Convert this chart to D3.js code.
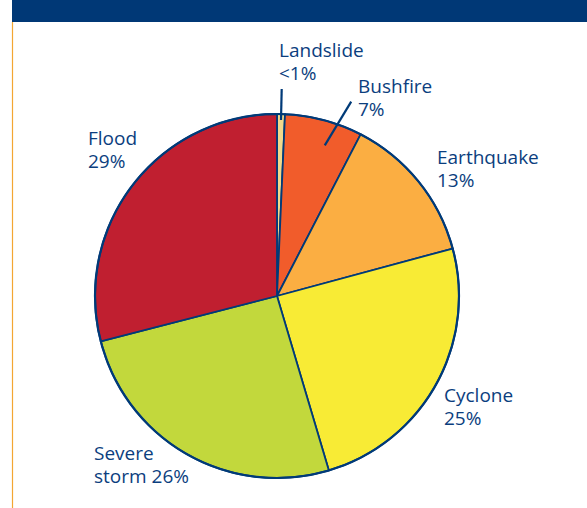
<!DOCTYPE html>
<html>
<head>
<meta charset="utf-8">
<script src="https://cdn.jsdelivr.net/npm/d3@7"></script>
<style>
  html, body { margin: 0; padding: 0; background: #ffffff; }
  svg { display: block; }
  text { font-family: "Open Sans", "Noto Sans", sans-serif; }
</style>
</head>
<body>
<svg id="chart" width="587" height="508"></svg>
<script>
// ---- data ----
const categories = ["Landslide", "Bushfire", "Earthquake", "Cyclone", "Severe storm", "Flood"];
const shares = [0.7, 6.9, 13.2, 24.6, 25.6, 29.0];           // % of events (slice sizes)
const shareLabels = ["<1%", "7%", "13%", "25%", "26%", "29%"]; // printed labels
const labelLines = [
  ["Landslide", "<1%"],
  ["Bushfire", "7%"],
  ["Earthquake", "13%"],
  ["Cyclone", "25%"],
  ["Severe", "storm 26%"],
  ["Flood", "29%"]
];
const colors = ["#f1d98c", "#f15c2b", "#fbae42", "#f8eb35", "#c2d83c", "#c01f30"];

// ---- layout (not data) ----
const W = 587, H = 508;
const cx = 277, cy = 296, R = 182;
const navy = "#003a78";
const textColor = "#0b3e7e";
const labelPos = [ // text anchor x, first baseline y
  {x: 279, y: 57},
  {x: 358, y: 93},
  {x: 437, y: 164},
  {x: 444, y: 402},
  {x: 94, y: 460},
  {x: 88, y: 145}
];
const leaders = [ // polar: inner [deg, r], outer [deg, r] ; null = no leader
  {a0: 1.3, r0: 176, a1: 1.3, r1: 207},
  {a0: 17.6, r0: 158, a1: 20.9, r1: 208},
  null, null, null, null
];

const svg = d3.select("#chart");

// header bar and left rule
svg.append("rect").attr("x", 12).attr("y", 0).attr("width", W - 12).attr("height", 22).attr("fill", "#003876");
svg.append("line").attr("x1", 12.5).attr("x2", 12.5).attr("y1", 22).attr("y2", H)
   .attr("stroke", "#f3a632").attr("stroke-width", 1.2);

const g = svg.append("g").attr("transform", `translate(${cx},${cy})`);

const pie = d3.pie().sort(null).value(d => d.v);
const arcs = pie(categories.map((c, i) => ({c, v: shares[i], i})));
const arc = d3.arc().innerRadius(0).outerRadius(R);

g.selectAll("path.slice").data(arcs).join("path")
  .attr("class", "slice")
  .attr("d", arc)
  .attr("fill", d => colors[d.data.i])
  .attr("stroke", navy)
  .attr("stroke-width", 1.8)
  .attr("stroke-linejoin", "round");

// outer ring
g.append("circle").attr("r", R).attr("fill", "none").attr("stroke", navy).attr("stroke-width", 2.2);

// leader lines
const polar = (deg, r) => {
  const a = deg * Math.PI / 180;
  return [r * Math.sin(a), -r * Math.cos(a)];
};
leaders.forEach(l => {
  if (!l) return;
  const p0 = polar(l.a0, l.r0), p1 = polar(l.a1, l.r1);
  g.append("line").attr("x1", p0[0]).attr("y1", p0[1]).attr("x2", p1[0]).attr("y2", p1[1])
    .attr("stroke", navy).attr("stroke-width", 2.2);
});

// labels
labelLines.forEach((lines, i) => {
  const t = svg.append("text")
    .attr("x", labelPos[i].x).attr("y", labelPos[i].y)
    .attr("fill", textColor).attr("font-size", 19);
  lines.forEach((s, k) => {
    t.append("tspan").attr("x", labelPos[i].x).attr("dy", k === 0 ? 0 : 22.5).text(s);
  });
});
</script>
</body>
</html>
